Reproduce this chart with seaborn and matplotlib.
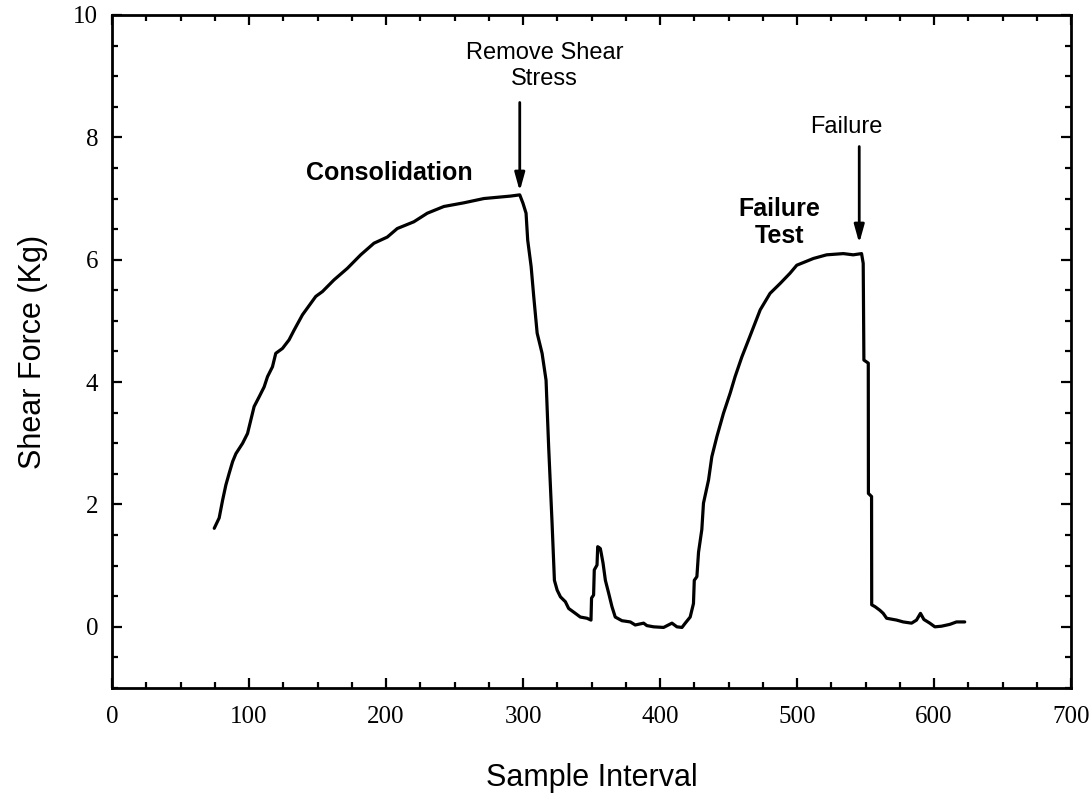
import numpy as np
import pandas as pd
import matplotlib
matplotlib.use("Agg")
import matplotlib.pyplot as plt
from matplotlib.ticker import MultipleLocator
import seaborn as sns

# Shear-box record: consolidation, unloading, rest, failure test, post-failure
sample_interval = [
    74.6, 78.2, 80.7, 83.1, 85.5, 88.0, 90.4, 95.3, 98.9, 101.3,
    103.7, 107.4, 111.0, 113.5, 117.1, 119.5, 124.4, 129.2, 132.9, 139.0,
    148.7, 153.6, 162.0, 171.8, 181.5, 191.2, 200.9, 208.2, 220.3, 230.1,
    242.2, 256.8, 271.4, 290.8, 297.6, 300.0, 302.2, 303.4, 305.9, 307.8,
    310.3, 313.9, 316.8, 318.7, 321.2, 322.9, 324.9, 327.3, 330.9, 333.3,
    338.2, 341.8, 346.7, 349.6, 350.0, 351.5, 352.0, 354.0, 354.5, 356.4,
    357.1, 358.4, 360.1, 362.5, 364.9, 367.3, 372.2, 378.3, 381.9, 388.0,
    390.4, 395.3, 402.6, 408.7, 412.3, 416.0, 418.4, 422.0, 424.4, 425.0,
    426.9, 428.1, 430.5, 431.7, 435.4, 437.8, 441.5, 446.3, 451.2, 454.8,
    459.7, 464.6, 473.1, 480.3, 487.6, 494.9, 499.8, 511.9, 521.6, 533.8,
    541.0, 547.1, 548.3, 548.8, 552.0, 552.1, 554.4, 554.5, 556.9, 560.5,
    562.9, 565.4, 572.7, 577.5, 583.6, 587.2, 590.1, 592.6, 596.9, 600.6,
    605.4, 611.5, 616.4, 622.4,
]
shear_force = [
    1.61, 1.78, 2.07, 2.32, 2.51, 2.70, 2.83, 3.00, 3.16, 3.38,
    3.60, 3.76, 3.92, 4.09, 4.25, 4.47, 4.55, 4.69, 4.85, 5.10,
    5.40, 5.48, 5.67, 5.86, 6.08, 6.27, 6.37, 6.51, 6.62, 6.76,
    6.87, 6.93, 7.00, 7.04, 7.06, 6.92, 6.76, 6.32, 5.89, 5.40,
    4.80, 4.47, 4.03, 2.94, 1.69, 0.76, 0.60, 0.49, 0.41, 0.30,
    0.22, 0.16, 0.14, 0.11, 0.47, 0.52, 0.93, 1.01, 1.31, 1.28,
    1.20, 1.04, 0.76, 0.55, 0.33, 0.16, 0.10, 0.08, 0.03, 0.06,
    0.02, 0.00, -0.01, 0.06, 0.00, -0.01, 0.06, 0.16, 0.38, 0.76,
    0.82, 1.22, 1.59, 2.02, 2.40, 2.78, 3.11, 3.49, 3.82, 4.09,
    4.41, 4.69, 5.18, 5.45, 5.61, 5.78, 5.91, 6.02, 6.08, 6.10,
    6.08, 6.10, 5.94, 4.36, 4.31, 2.18, 2.13, 0.36, 0.33, 0.27,
    0.22, 0.14, 0.11, 0.08, 0.06, 0.11, 0.22, 0.12, 0.06, 0.00,
    0.01, 0.04, 0.08, 0.08,
]

x_ticks = [0, 100, 200, 300, 400, 500, 600, 700]
y_ticks = [0, 2, 4, 6, 8, 10]

df = pd.DataFrame({"Sample Interval": sample_interval, "Shear Force (Kg)": shear_force})

sns.set_theme(style="ticks")
plt.rcParams["font.family"] = ["Liberation Sans", "DejaVu Sans"]

fig = plt.figure(figsize=(10.91, 7.93), dpi=100)
ax = fig.add_axes([0.1027, 0.1324, 0.879, 0.8487])

sns.lineplot(data=df, x="Sample Interval", y="Shear Force (Kg)", sort=False,
             estimator=None, color="black", linewidth=2.3, ax=ax)

ax.set_xlim(0, 700)
ax.set_ylim(-1, 10)
ax.set_xticks(x_ticks)
ax.set_yticks(y_ticks)
ax.xaxis.set_minor_locator(MultipleLocator(25))
ax.yaxis.set_minor_locator(MultipleLocator(0.5))
ax.tick_params(which="both", direction="in", top=True, right=True,
               color="black", width=1.6)
ax.tick_params(which="major", length=7)
ax.tick_params(which="minor", length=4.5)
ax.tick_params(axis="x", which="major", pad=13)
ax.tick_params(axis="y", which="major", pad=10)
for lab in ax.get_xticklabels() + ax.get_yticklabels():
    lab.set_fontfamily("Liberation Serif")
    lab.set_fontsize(18)
    lab.set_color("black")
for sp in ax.spines.values():
    sp.set_visible(True)
    sp.set_color("black")
    sp.set_linewidth(2.0)

ax.set_xlabel("Sample Interval", fontsize=22, color="black", labelpad=25)
ax.set_ylabel("Shear Force (Kg)", fontsize=22, color="black", labelpad=18)

# Stage labels and event arrows
ax.text(202.6, 7.30, "Consolidation", ha="center", va="baseline",
        fontsize=18, fontweight="bold", color="black")
ax.text(487.0, 6.27, "Failure\nTest", ha="center", va="baseline",
        fontsize=18, fontweight="bold", color="black", linespacing=1.15)

arrow = dict(arrowstyle="-|>,head_length=0.9,head_width=0.25",
             color="black", lw=2.0, shrinkA=0, shrinkB=0)
ax.annotate("", xy=(297.6, 7.12), xytext=(297.6, 8.57), arrowprops=arrow)
ax.annotate("", xy=(545.4, 6.27), xytext=(545.4, 7.85), arrowprops=arrow)
ax.text(315.6, 8.85, "Remove Shear\nStress", ha="center", va="baseline",
        fontsize=17, color="black", linespacing=1.24)
ax.text(536.0, 8.07, "Failure", ha="center", va="baseline",
        fontsize=17, color="black")

fig.savefig("out.png", dpi=100, facecolor="white")
